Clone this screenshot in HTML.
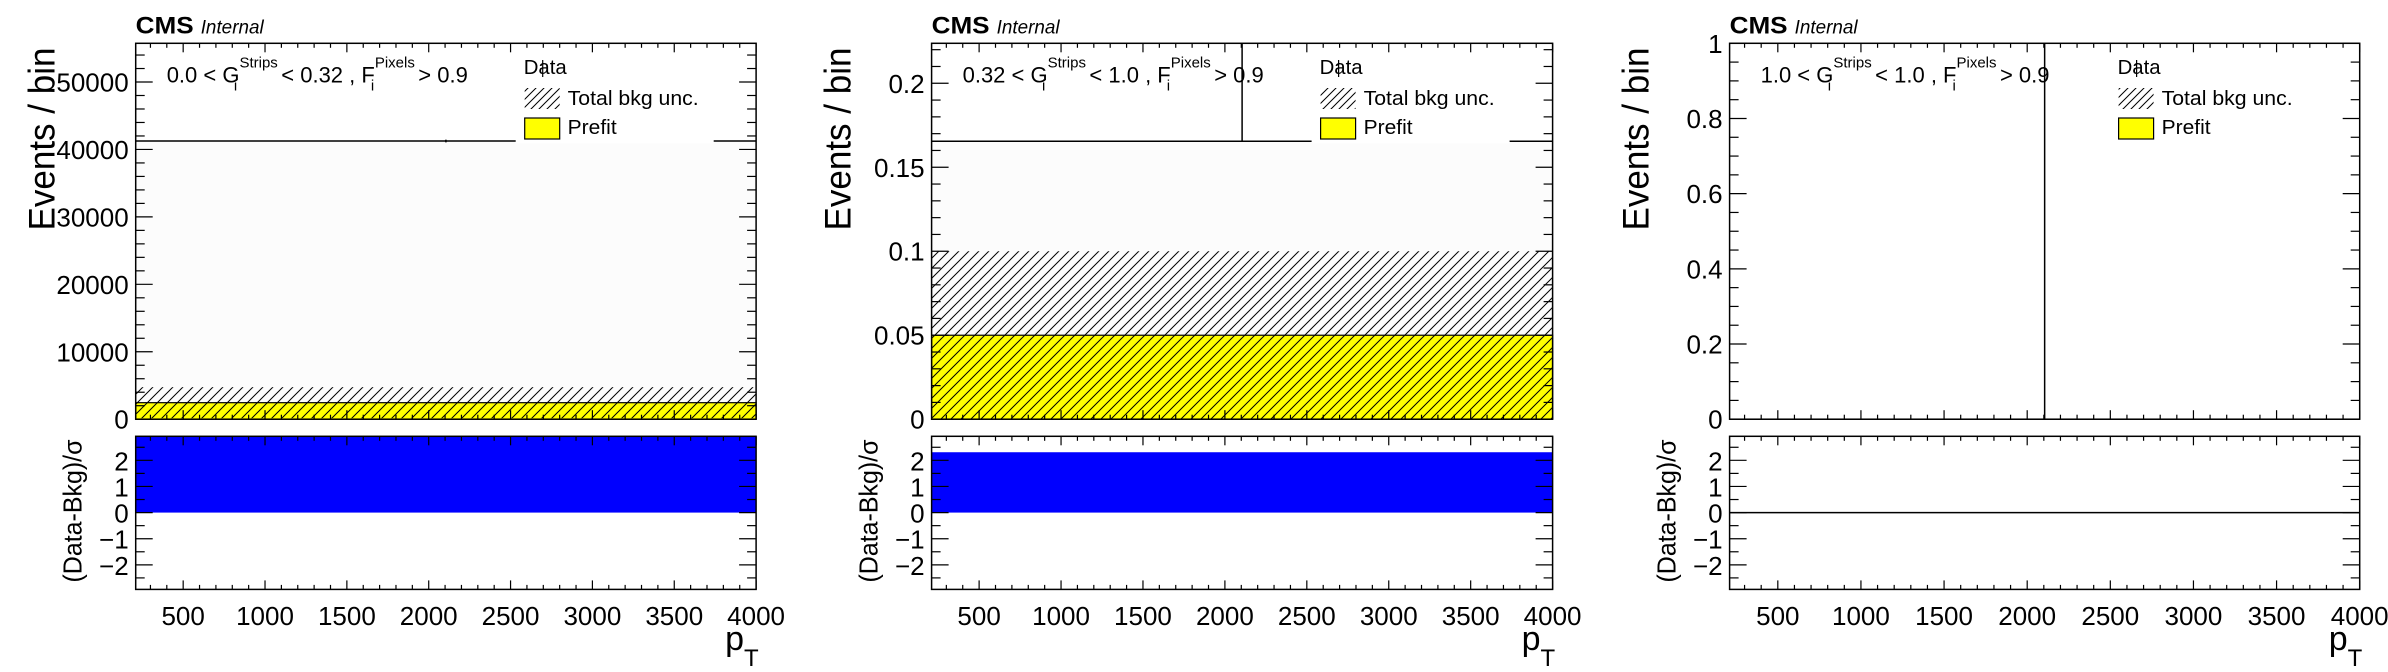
<!DOCTYPE html>
<html><head><meta charset="utf-8"><style>
html,body{margin:0;padding:0;background:#fff;}
svg{display:block;font-family:"Liberation Sans",Arial,sans-serif;}
</style></head><body>
<svg id="chart" width="2388" height="672" viewBox="0 0 2388 672" xmlns="http://www.w3.org/2000/svg">
<defs>
<pattern id="hatch" patternUnits="userSpaceOnUse" width="10" height="10">
<path d="M-1,11 L11,-1 M-6,6 L6,-6 M4,16 L16,4" stroke="#000" stroke-width="1"/>
</pattern>
<pattern id="hatchL" patternUnits="userSpaceOnUse" width="8" height="8">
<path d="M-1,9 L9,-1 M-5,5 L5,-5 M3,13 L13,3" stroke="#000" stroke-width="1"/>
</pattern>
</defs>
</svg>
<script>
// ---- data ----
const binEdges = [210, 4000];
const xTickLabels = [500, 1000, 1500, 2000, 2500, 3000, 3500, 4000];
const ratioTickLabels = [-2, -1, 0, 1, 2];
const panelLabels = ["0.0 < G", "0.32 < G", "1.0 < G"];
const panelUpper = ["< 0.32 , F", "< 1.0 , F", "< 1.0 , F"];
const p1YTicks = [0, 10000, 20000, 30000, 40000, 50000];
const p2YTicks = [0, 0.05, 0.1, 0.15, 0.2];
const p3YTicks = [0, 0.2, 0.4, 0.6, 0.8, 1];
const yMaxes = [55740, 0.2238, 1.0];
const yMinorSteps = [2000, 0.01, 0.05];
const prefitVals = [[2450], [0.05], [0]];
const uncVals = [[2300], [0.05], [0]];
const dataVals = [[41250], [0.1655], [0]];
const dataErrUp = [[200], [1], [1]];
const dataErrDn = [[200], [0], [0]];
const pullVals = [[5], [2.31], [0]];

const NS = "http://www.w3.org/2000/svg";
const svg = document.getElementById("chart");
function el(tag, attrs, parent, text) {
  const e = document.createElementNS(NS, tag);
  for (const k in attrs) e.setAttribute(k, attrs[k]);
  if (text !== undefined) e.textContent = text;
  (parent || svg).appendChild(e);
  return e;
}
function fit(t, len) {
  t.setAttribute("textLength", len);
  t.setAttribute("lengthAdjust", "spacingAndGlyphs");
}
const panelsX = [[135.7, 756.1], [931.6, 1552.6], [1729.6, 2359.7]];
const yTicksAll = [p1YTicks, p2YTicks, p3YTicks];
const mainTop = 43.3, mainBot = 419.2, rTop = 436.3, rBot = 589.4;
const rMin = -2.94, rMax = 2.92;
function fmt(v){ return Math.abs(v) < 1e-9 ? "0" : String(+v.toFixed(4)); }

for (let p = 0; p < 3; p++) {
  const [L, R] = panelsX[p];
  const g = el("g", {});
  
  
  const xs = v => L + (v - binEdges[0]) / (binEdges[binEdges.length - 1] - binEdges[0]) * (R - L);
  const ys = v => mainBot - v / yMaxes[p] * (mainBot - mainTop);
  const rs = v => rBot - (Math.max(rMin, Math.min(rMax, v)) - rMin) / (rMax - rMin) * (rBot - rTop);
  const clipY = v => Math.max(mainTop, ys(v));

  for (let b = 0; b < binEdges.length - 1; b++) {
    const x0 = xs(binEdges[b]), x1 = xs(binEdges[b + 1]);
    const d = dataVals[p][b];
    if (d > 0) {
      const bg = el("rect", {x: x0, y: clipY(d), width: x1 - x0, height: mainBot - clipY(d), fill: "#fcfcfc"}, g);
      
      
    }
    const pf = prefitVals[p][b];
    if (pf > 0) {
      const r = el("rect", {x: x0, y: clipY(pf), width: x1 - x0, height: mainBot - clipY(pf), fill: "#ffff00", stroke: "#000", "stroke-width": 1.2}, g);
      
      
    }
    const u = uncVals[p][b];
    if (u > 0) {
      const hi = clipY(pf + u), lo = ys(Math.max(0, pf - u));
      const h = el("rect", {x: x0, y: hi, width: x1 - x0, height: lo - hi, fill: "url(#hatch)"}, g);
      
      
    }
    const xc = xs((binEdges[b] + binEdges[b + 1]) / 2);
    const dl = el("line", {x1: x0, x2: x1, y1: ys(d), y2: ys(d), stroke: "#000", "stroke-width": 1.5}, g);
    
    
    const eb = el("line", {x1: xc, x2: xc, y1: clipY(d + dataErrUp[p][b]), y2: ys(Math.max(0, d - dataErrDn[p][b])), stroke: "#000", "stroke-width": 1.5}, g);
    
    
    const pv = pullVals[p][b];
    if (pv !== 0) {
      const t = Math.min(rs(pv), rs(0)), bt = Math.max(rs(pv), rs(0));
      const pr = el("rect", {x: x0, y: t, width: x1 - x0, height: bt - t, fill: "#0000ff"}, g);
      
      
    } else {
      const pl = el("line", {x1: x0, x2: x1, y1: rs(0), y2: rs(0), stroke: "#000", "stroke-width": 1.5}, g);
      
      
    }
  }

  // legend
  const lg = el("g", {}, g);
  
  
  const lx = L + 388;
  el("rect", {x: lx - 8, y: mainTop + 2, width: 198, height: 98, fill: "#fff"}, lg);
  const t1 = el("text", {x: lx, y: 74, "font-size": 20.5}, lg, "Data");
  fit(t1, 43);
  
  
  el("line", {x1: lx + 19, x2: lx + 19, y1: 60, y2: 77, stroke: "#000", "stroke-width": 1.2}, lg);
  el("rect", {x: lx + 1, y: 88, width: 35, height: 21, fill: "url(#hatchL)"}, lg);
  const t2 = el("text", {x: lx + 44, y: 105, "font-size": 20.5}, lg, "Total bkg unc.");
  fit(t2, 131);
  
  
  el("rect", {x: lx + 1, y: 118, width: 35, height: 21, fill: "#ffff00", stroke: "#000", "stroke-width": 1.2}, lg);
  const t3 = el("text", {x: lx + 44, y: 134, "font-size": 20.5}, lg, "Prefit");
  fit(t3, 49);
  
  

  // frames
  el("rect", {x: L, y: mainTop, width: R - L, height: mainBot - mainTop, fill: "none", stroke: "#000", "stroke-width": 1.5}, g);
  el("rect", {x: L, y: rTop, width: R - L, height: rBot - rTop, fill: "none", stroke: "#000", "stroke-width": 1.5}, g);

  // x ticks
  for (let v = 300; v <= 4000; v += 100) {
    const x = xs(v), maj = v % 500 === 0, len = maj ? 9 : 4.5;
    for (const [yb, yt] of [[mainBot, mainTop], [rBot, rTop]]) {
      el("line", {x1: x, x2: x, y1: yb, y2: yb - len, stroke: "#000", "stroke-width": 1.2}, g);
      el("line", {x1: x, x2: x, y1: yt, y2: yt + len, stroke: "#000", "stroke-width": 1.2}, g);
    }
  }
  xTickLabels.forEach(v => {
    const t = el("text", {x: xs(v), y: 625, "font-size": 26, "text-anchor": "middle"}, g, String(v));
    
    
  });
  // y ticks main
  const yt = yTicksAll[p];
  for (let v = 0; v <= yMaxes[p] + 1e-9; v += yMinorSteps[p]) {
    const y = ys(v);
    const maj = yt.some(t => Math.abs(t - v) < yMinorSteps[p] / 10);
    const len = maj ? 17 : 9;
    el("line", {x1: L, x2: L + len, y1: y, y2: y, stroke: "#000", "stroke-width": 1.2}, g);
    el("line", {x1: R, x2: R - len, y1: y, y2: y, stroke: "#000", "stroke-width": 1.2}, g);
  }
  yt.forEach(v => {
    const t = el("text", {x: L - 7, y: ys(v) + 9.5, "font-size": 26, "text-anchor": "end"}, g, fmt(v));
    
    
  });
  // ratio ticks
  for (let v = -2.5; v <= 2.5; v += 0.5) {
    const maj = Math.abs(v - Math.round(v)) < 1e-6, len = maj ? 17 : 9;
    el("line", {x1: L, x2: L + len, y1: rs(v), y2: rs(v), stroke: "#000", "stroke-width": 1.2}, g);
    el("line", {x1: R, x2: R - len, y1: rs(v), y2: rs(v), stroke: "#000", "stroke-width": 1.2}, g);
  }
  ratioTickLabels.forEach(v => {
    const t = el("text", {x: L - 7, y: rs(v) + 10, "font-size": 26, "text-anchor": "end"}, g, v < 0 ? "\u2212" + (-v) : String(v));
    
    
  });

  // titles
  const yt1 = el("text", {x: 0, y: 0, "font-size": 37, "text-anchor": "middle", transform: `translate(${L - 81},139) rotate(-90)`}, g, "Events / bin");
  fit(yt1, 183);
  
  
  const yt2 = el("text", {x: 0, y: 0, "font-size": 26, "text-anchor": "middle", transform: `translate(${L - 54},511) rotate(-90)`}, g, "(Data-Bkg)/\u03c3");
  fit(yt2, 143);
  
  
  const xt = el("text", {x: R - 31, y: 650, "font-size": 34}, g);
  
  
  el("tspan", {}, xt, "p");
  el("tspan", {"font-size": 24, dy: 16}, xt, "T");
  const cms = el("text", {x: L, y: 33.3, "font-size": 24, "font-weight": "bold"}, g, "CMS");
  fit(cms, 58);
  
  
  const it = el("text", {x: L + 65, y: 33.3, "font-size": 19, "font-style": "italic"}, g, "Internal");
  fit(it, 63);
  
  

  // category label
  const cl = el("text", {x: L + 31, y: 82.5, "font-size": 22}, g);
  
  
  el("tspan", {}, cl, panelLabels[p]);
  el("tspan", {"font-size": 15, dy: -15}, cl, "Strips");
  el("tspan", {"font-size": 15, dx: -44, dy: 23}, cl, "i");
  el("tspan", {dx: 38, dy: -8}, cl, " " + panelUpper[p]);
  el("tspan", {"font-size": 15, dy: -15}, cl, "Pixels");
  el("tspan", {"font-size": 15, dx: -44, dy: 23}, cl, "i");
  el("tspan", {dx: 38, dy: -8}, cl, " > 0.9");
}
</script>
</body></html>
